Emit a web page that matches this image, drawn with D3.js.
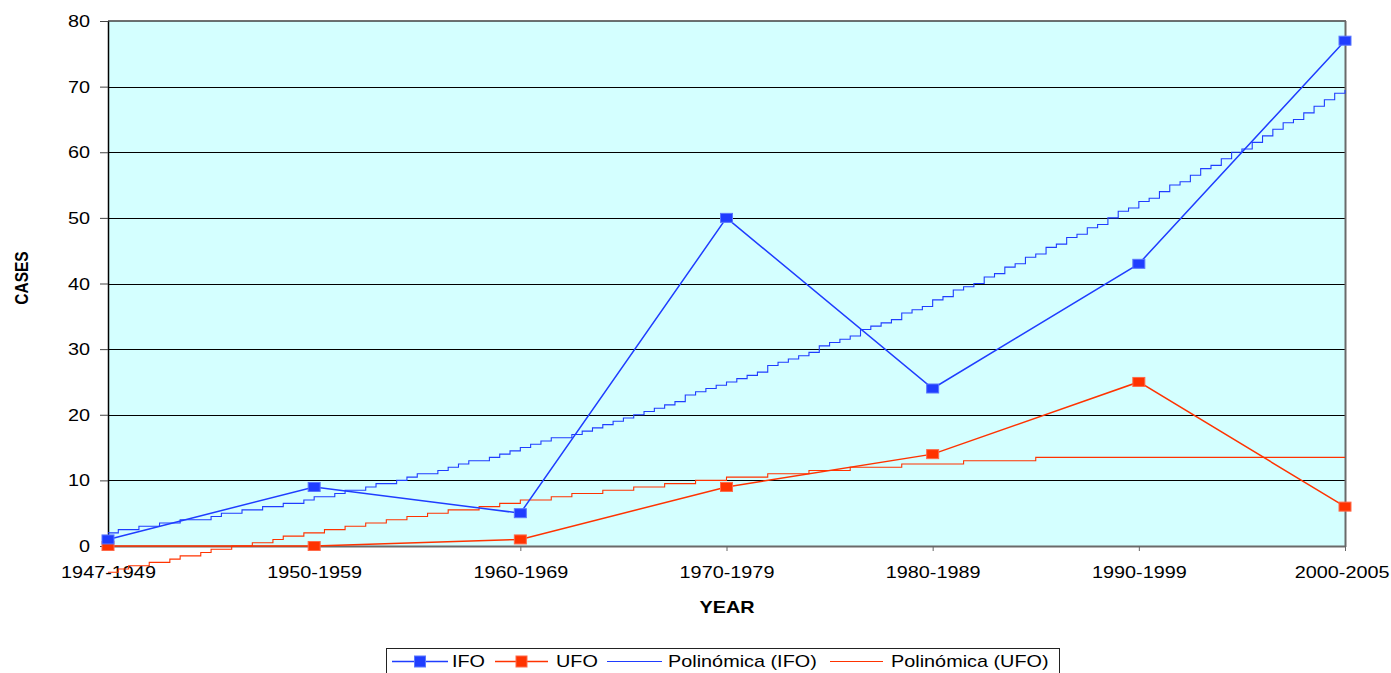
<!DOCTYPE html>
<html>
<head>
<meta charset="utf-8">
<script src="https://cdn.jsdelivr.net/npm/d3@7"></script>
<style>
  html, body { margin: 0; padding: 0; background: #fff; }
  svg { display: block; font-family: "Liberation Sans", Arial, sans-serif; }
</style>
</head>
<body>
<svg id="chart" width="1391" height="673"></svg>
<script>
// Decades on the category axis
const categories = ["1947-1949", "1950-1959", "1960-1969", "1970-1979", "1980-1989", "1990-1999", "2000-2005"];
// Cases per decade
const ifoValues = [1, 9, 5, 50, 24, 43, 77];
const ufoValues = [0, 0, 1, 9, 14, 25, 6];
// Value axis ticks
const yTicks = [0, 10, 20, 30, 40, 50, 60, 70, 80];
// Legend entries
const legendLabels = ["IFO", "UFO", "Polinómica (IFO)", "Polinómica (UFO)"];

const BLUE = "#1f3dff";
const RED = "#ff3300";
const BG = "#d4ffff";
const SX = 1.24; // horizontal stretch of the lettering

const svg = d3.select("#chart");
const plot = { left: 108, right: 1345, top: 21, bottom: 546 };

const x = d3.scalePoint().domain(d3.range(categories.length)).range([plot.left, plot.right]).padding(0);
const y = d3.scaleLinear().domain([0, 80]).range([plot.bottom, plot.top]);

// Second-order least-squares fit, as used for the trend lines
function polyFit2(values) {
  const xs = values.map((_, i) => i + 1);
  let s = [0, 0, 0, 0, 0], t = [0, 0, 0];
  xs.forEach((xi, i) => {
    for (let k = 0; k <= 4; k++) s[k] += Math.pow(xi, k);
    for (let k = 0; k <= 2; k++) t[k] += Math.pow(xi, k) * values[i];
  });
  // Solve the 3x3 normal equations by Cramer's rule
  const M = [[s[0], s[1], s[2]], [s[1], s[2], s[3]], [s[2], s[3], s[4]]];
  const det = m => m[0][0]*(m[1][1]*m[2][2]-m[1][2]*m[2][1]) - m[0][1]*(m[1][0]*m[2][2]-m[1][2]*m[2][0]) + m[0][2]*(m[1][0]*m[2][1]-m[1][1]*m[2][0]);
  const D = det(M);
  const coef = [0, 1, 2].map(c => det(M.map((row, r) => row.map((v, j) => j === c ? t[r] : v))) / D);
  return xi => coef[0] + coef[1] * xi + coef[2] * xi * xi;
}

// Plot background
svg.append("rect")
  .attr("x", plot.left).attr("y", plot.top)
  .attr("width", plot.right - plot.left).attr("height", plot.bottom - plot.top)
  .attr("fill", BG);

// Horizontal gridlines
svg.append("g").selectAll("line")
  .data(yTicks.filter(d => d > 0 && d < 80))
  .join("line")
  .attr("x1", plot.left).attr("x2", plot.right)
  .attr("y1", d => Math.round(y(d)) + 0.5).attr("y2", d => Math.round(y(d)) + 0.5)
  .attr("stroke", "#000").attr("stroke-width", 1);

// Plot frame: top, right, bottom
svg.append("line").attr("x1", plot.left).attr("x2", plot.right + 1)
  .attr("y1", plot.top).attr("y2", plot.top).attr("stroke", "#404040").attr("stroke-width", 1.5);
svg.append("line").attr("x1", plot.right + 0.5).attr("x2", plot.right + 0.5)
  .attr("y1", plot.top).attr("y2", plot.bottom + 1).attr("stroke", "#6a6a6a").attr("stroke-width", 2);
svg.append("line").attr("x1", plot.left).attr("x2", plot.right + 1)
  .attr("y1", plot.bottom + 0.5).attr("y2", plot.bottom + 0.5).attr("stroke", "#6a6a6a").attr("stroke-width", 2);

// Value axis
const yAxis = svg.append("g").attr("transform", `translate(${plot.left},0)`)
  .call(d3.axisLeft(y).tickValues(yTicks).tickSize(8).tickSizeOuter(0).tickFormat(d3.format("d")));
yAxis.select(".domain").attr("stroke", "#000").attr("stroke-width", 1.5);
yAxis.selectAll(".tick line").attr("stroke", "#444");
yAxis.selectAll(".tick text").remove();
yAxis.selectAll(".tick").append("text")
  .attr("transform", `translate(-18,0) scale(${SX},1)`)
  .attr("dy", "0.35em")
  .attr("text-anchor", "end")
  .attr("font-size", 16).attr("fill", "#000")
  .text(d => d);

// Category axis
const lastIdx = categories.length - 1;
const xAxis = svg.append("g").attr("transform", `translate(0,${plot.bottom})`)
  .call(d3.axisBottom(x).tickSize(5).tickSizeOuter(0).tickFormat(i => categories[i]));
xAxis.select(".domain").remove();
xAxis.selectAll(".tick line").attr("stroke", "#666");
xAxis.selectAll(".tick text").remove();
xAxis.selectAll(".tick").append("text")
  // the last label is pulled in so it stays inside the canvas
  .attr("transform", i => i === lastIdx
    ? `translate(${1389 - x(i)},32) scale(${SX},1)`
    : `translate(0,32) scale(${SX},1)`)
  .attr("text-anchor", i => i === lastIdx ? "end" : "middle")
  .attr("font-size", 16).attr("fill", "#000")
  .text(i => categories[i]);

// Axis titles
svg.append("text")
  .attr("transform", `translate(727,613) scale(${SX},1)`)
  .attr("text-anchor", "middle").attr("font-size", 16).attr("font-weight", "bold")
  .text("YEAR");
svg.append("text")
  .attr("transform", `translate(28,278) scale(${SX},1) rotate(-90)`)
  .attr("text-anchor", "middle").attr("font-size", 15.5).attr("font-weight", "bold")
  .text("CASES");

// Trend lines (quadratic fits drawn in small steps)
function trendPoints(values) {
  const f = polyFit2(values);
  const n = 120;
  return d3.range(n + 1).map(k => {
    const xi = 1 + (values.length - 1) * k / n;
    return [plot.left + (plot.right - plot.left) * k / n, Math.round(f(xi) * 2) / 2];
  });
}
const trendLine = d3.line().x(d => d[0]).y(d => y(d[1])).curve(d3.curveStepAfter);
svg.append("path").attr("d", trendLine(trendPoints(ifoValues)))
  .attr("fill", "none").attr("stroke", BLUE).attr("stroke-width", 1.1);
svg.append("path").attr("d", trendLine(trendPoints(ufoValues)))
  .attr("fill", "none").attr("stroke", RED).attr("stroke-width", 1.1);

// Data series
const seriesLine = d3.line().x((d, i) => x(i)).y(d => y(d));
function drawSeries(values, color, markStroke) {
  svg.append("path").attr("d", seriesLine(values))
    .attr("fill", "none").attr("stroke", color).attr("stroke-width", 1.5);
  svg.append("g").selectAll("rect")
    .data(values)
    .join("rect")
    .attr("x", (d, i) => x(i) - 6).attr("y", d => y(d) - 4.5)
    .attr("width", 12).attr("height", 9)
    .attr("fill", color).attr("stroke", markStroke).attr("stroke-width", 1);
}
drawSeries(ufoValues, RED, "#ff6a4a");
drawSeries(ifoValues, BLUE, "#5a78ff");

// Legend
const legend = svg.append("g");
legend.append("rect")
  .attr("x", 386.5).attr("y", 648.5).attr("width", 673).attr("height", 40)
  .attr("fill", "#fff").attr("stroke", "#222").attr("stroke-width", 1);
const legendItems = [
  { x1: 392, x2: 448, color: BLUE, marker: true, mStroke: "#5a78ff", tx: 452 },
  { x1: 495, x2: 548, color: RED, marker: true, mStroke: "#ff6a4a", tx: 556 },
  { x1: 607, x2: 662, color: BLUE, marker: false, tx: 668 },
  { x1: 830, x2: 883, color: RED, marker: false, tx: 891 }
];
legendItems.forEach((it, i) => {
  legend.append("line").attr("x1", it.x1).attr("x2", it.x2)
    .attr("y1", 661.5).attr("y2", 661.5)
    .attr("stroke", it.color).attr("stroke-width", it.marker ? 1.5 : 1);
  if (it.marker) {
    const cx = (it.x1 + it.x2) / 2;
    legend.append("rect").attr("x", cx - 5.5).attr("y", 656).attr("width", 11).attr("height", 11)
      .attr("fill", it.color).attr("stroke", it.mStroke);
  }
  legend.append("text")
    .attr("transform", `translate(${it.tx},667) scale(${SX},1)`)
    .attr("font-size", 16).attr("fill", "#000")
    .text(legendLabels[i]);
});
</script>
</body>
</html>
